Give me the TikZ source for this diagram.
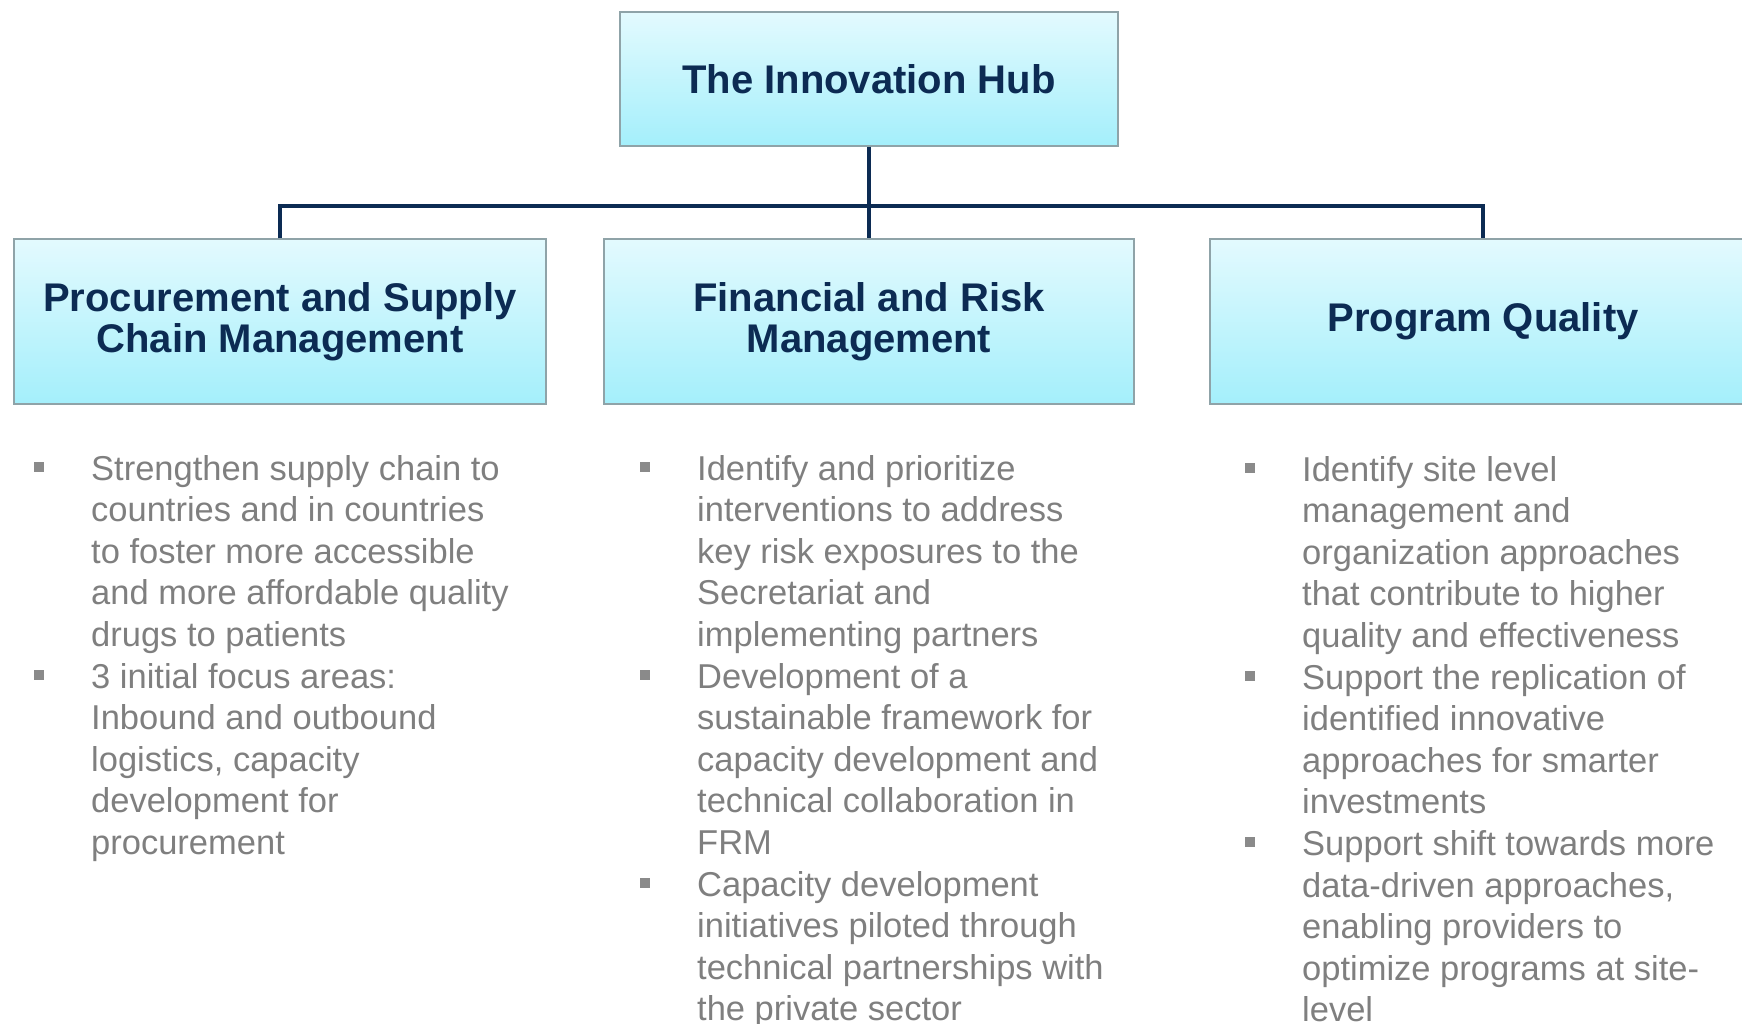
\documentclass[tikz,border=0pt]{standalone}
\usepackage{fontspec}
\setmainfont{Liberation Sans}
\usetikzlibrary{positioning}

\definecolor{hubnavy}{HTML}{0C2B53}
\definecolor{boxtop}{HTML}{E3FAFE}
\definecolor{boxbottom}{HTML}{A4EFFB}
\definecolor{boxedge}{HTML}{8FA3A8}
\definecolor{bodygray}{HTML}{7F7F7F}
\definecolor{bulletgray}{HTML}{8A8A8A}

% square bullet hung in the left margin
\newcommand{\sqbul}{\llap{{\color{bulletgray}\rule[8pt]{10pt}{10pt}}\hspace{47pt}}}

\begin{document}
\begin{tikzpicture}[x=1pt,y=1pt,
	hubbox/.style={draw=boxedge, line width=1.2pt, top color=boxtop, bottom color=boxbottom,
		minimum width=532pt, minimum height=165pt, inner sep=0pt, align=center,
		text=hubnavy, font=\fontsize{40}{41}\selectfont\bfseries},
	branch/.style={draw=hubnavy, line width=4.5pt},
	% base of a multi-line node is its last line, so these sit on the last baseline
	points/.style={anchor=base west, inner sep=0pt, align=left, text=bodygray,
		font=\fontsize{34.5}{41.6}\selectfont}]
	\useasboundingbox (0,0) rectangle (1742,-1023);
	\clip (0,0) rectangle (1742,-1023);
	% Hub %
	\node[hubbox, minimum width=498pt, minimum height=134pt] (hub) at (869,-79) {The Innovation Hub};
	% Work Areas %
	\node[hubbox] (psm) at (280,-321.5) {Procurement and Supply\\Chain Management};
	\node[hubbox, minimum width=530pt] (frm) at (869,-321.5) {Financial and Risk\\Management};
	\node[hubbox, minimum width=546pt] (quality) at (1483,-321.5) {Program Quality};
	% Branches %
	\coordinate (split) at (869,-206);
	\draw[branch] (hub.south) -- (frm.north);
	\draw[branch] (psm.north) -- (psm.north |- split) -- (quality.north |- split) -- (quality.north);
	% Key Points %
	\node[points] (psmpoints) at (91,-854.4) {\sqbul Strengthen supply chain to\\
		countries and in countries\\
		to foster more accessible\\
		and more affordable quality\\
		drugs to patients\\
		\sqbul 3 initial focus areas:\\
		Inbound and outbound\\
		logistics, capacity\\
		development for\\
		procurement};
	\node[points] (frmpoints) at (697,-1020.8) {\sqbul Identify and prioritize\\
		interventions to address\\
		key risk exposures to the\\
		Secretariat and\\
		implementing partners\\
		\sqbul Development of a\\
		sustainable framework for\\
		capacity development and\\
		technical collaboration in\\
		FRM\\
		\sqbul Capacity development\\
		initiatives piloted through\\
		technical partnerships with\\
		the private sector};
	\node[points] (qualitypoints) at (1302,-1021.8) {\sqbul Identify site level\\
		management and\\
		organization approaches\\
		that contribute to higher\\
		quality and effectiveness\\
		\sqbul Support the replication of\\
		identified innovative\\
		approaches for smarter\\
		investments\\
		\sqbul Support shift towards more\\
		data-driven approaches,\\
		enabling providers to\\
		optimize programs at site-\\
		level};
\end{tikzpicture}
\end{document}
